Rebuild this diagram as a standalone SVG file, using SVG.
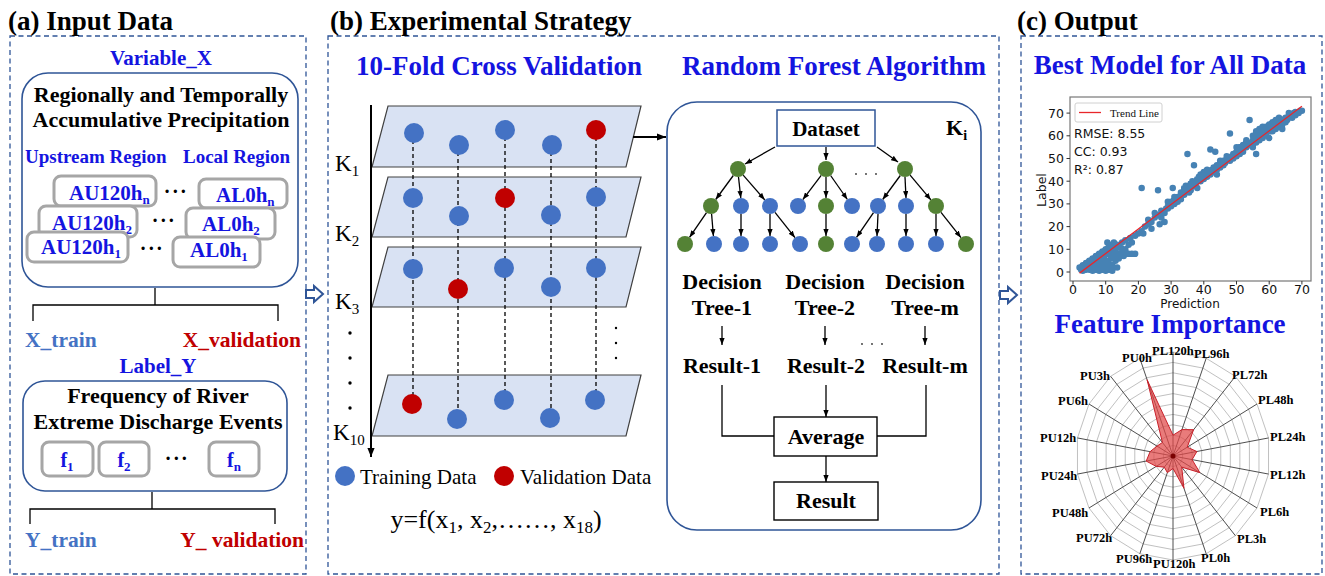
<svg xmlns="http://www.w3.org/2000/svg" xmlns:xlink="http://www.w3.org/1999/xlink" width="1325" height="576" viewBox="0 0 1325 576">
  <style>
    text { font-family: "Liberation Serif", "Times New Roman", serif; }
    .h { font-size: 27px; font-weight: bold; fill: #000; }
    .ttl { font-size: 27px; font-weight: bold; fill: #1414E0; }
    .bl { font-weight: bold; fill: #1414E0; }
    .bk { font-weight: bold; fill: #000; }
    .tr { font-weight: bold; fill: #4472C4; font-size: 21.5px; }
    .vd { font-weight: bold; fill: #C00000; font-size: 21.5px; }
    .reg { fill: #000; }
    .panel { fill: none; stroke: #2F5597; stroke-width: 1.3; stroke-dasharray: 5 3.5; }
    .round { fill: #fff; stroke: #2F5597; stroke-width: 1.6; }
    .gbox { fill: #fff; stroke: #A6A6A6; stroke-width: 3; }
    .plane { fill: #D9E2F3; stroke: #404040; stroke-width: 1.2; }
    .blue { fill: #4472C4; }
    .red { fill: #C00000; }
    .green { fill: #548235; }
    .ln { fill: none; stroke: #000; stroke-width: 1.3; }
    .dash { fill: none; stroke: #000; stroke-width: 1.3; stroke-dasharray: 4 3; }
    .box { fill: #fff; stroke: #000; stroke-width: 1.4; }
    text.mpl, .mpl text { font-family: "DejaVu Sans", "Liberation Sans", sans-serif; font-size: 12.5px; fill: #111; }
    .rl { font-size: 12.5px; font-weight: bold; fill: #000; }
    .nss { vector-effect: non-scaling-stroke; }
  </style>
  <defs>
    <marker id="ah" viewBox="0 0 8 6" refX="8" refY="3" markerWidth="7" markerHeight="5.5" markerUnits="userSpaceOnUse" orient="auto">
      <path d="M0,0L8,3L0,6z" fill="#000"/>
    </marker>
    <marker id="ahL" viewBox="0 0 10 8" refX="10" refY="4" markerWidth="9" markerHeight="7.5" markerUnits="userSpaceOnUse" orient="auto">
      <path d="M0,0L10,4L0,8z" fill="#000"/>
    </marker>
    <polygon id="ring" points="0,-100 34.2,-93.97 64.28,-76.6 86.6,-50 98.48,-17.36 98.48,17.36 86.6,50 64.28,76.6 34.2,93.97 0,100 -34.2,93.97 -64.28,76.6 -86.6,50 -98.48,17.36 -98.48,-17.36 -86.6,-50 -64.28,-76.6 -34.2,-93.97" fill="none" stroke="#B0B0B0" stroke-width="0.8" vector-effect="non-scaling-stroke"/>
  </defs>

  <rect width="1325" height="576" fill="#fff"/>

  <!-- panel frames and titles -->
  <g id="panels">
    <rect class="panel" x="10" y="36" width="296" height="538"/>
    <rect class="panel" x="328" y="36" width="671" height="538"/>
    <rect class="panel" x="1021" y="36" width="301" height="538"/>
    <text class="h" x="8" y="30">(a) Input Data</text>
    <text class="h" x="330" y="30">(b) Experimental Strategy</text>
    <text class="h" x="1017" y="30">(c) Output</text>
  </g>

  <!-- hollow arrows between panels -->
  <g id="panel-arrows" fill="#fff" stroke="#2F5597" stroke-width="2" stroke-linejoin="miter">
    <polygon points="306,290 314,290 314,286 323,294 314,302 314,298 306,298"/>
    <polygon points="1000,291 1008,291 1008,287 1017,295 1008,303 1008,299 1000,299"/>
  </g>

  <!-- (a) input data -->
  <g id="variable-x">
    <text class="bl" x="161" y="65" font-size="21" text-anchor="middle">Variable_X</text>
    <rect class="round" x="22" y="73" width="276" height="214" rx="26"/>
    <text class="bk" x="161" y="102" font-size="22" text-anchor="middle">Regionally and Temporally</text>
    <text class="bk" x="161" y="127" font-size="22" text-anchor="middle">Accumulative Precipitation</text>
    <text class="bl" x="25" y="163" font-size="19">Upstream Region</text>
    <text class="bl" x="183" y="163" font-size="19">Local Region</text>
  </g>
  <g id="upstream-boxes">
    <rect class="gbox" x="54" y="176" width="102" height="30" rx="7"/>
    <text class="bl" x="69" y="200" font-size="21">AU120h<tspan font-size="13" dy="4">n</tspan></text>
    <rect class="gbox" x="39" y="206" width="98" height="31" rx="7"/>
    <text class="bl" x="52" y="230" font-size="21">AU120h<tspan font-size="13" dy="4">2</tspan></text>
    <rect class="gbox" x="27" y="232" width="101" height="30" rx="7"/>
    <text class="bl" x="41" y="254" font-size="21">AU120h<tspan font-size="13" dy="4">1</tspan></text>
  </g>
  <g id="local-boxes">
    <rect class="gbox" x="199" y="179" width="88" height="29" rx="7"/>
    <text class="bl" x="216" y="202" font-size="21">AL0h<tspan font-size="13" dy="4">n</tspan></text>
    <rect class="gbox" x="186" y="208" width="89" height="31" rx="7"/>
    <text class="bl" x="202" y="231" font-size="21">AL0h<tspan font-size="13" dy="4">2</tspan></text>
    <rect class="gbox" x="173" y="237" width="87" height="30" rx="7"/>
    <text class="bl" x="190" y="257" font-size="21">AL0h<tspan font-size="13" dy="4">1</tspan></text>
  </g>
  <g id="x-ellipses" class="bk" font-size="20" text-anchor="middle" letter-spacing="1.5">
    <text x="176" y="198">···</text>
    <text x="164" y="227">···</text>
    <text x="152" y="255">···</text>
  </g>
  <g id="x-split">
    <path class="ln" d="M155,288V305M33,321V305H278V321"/>
    <text class="tr" x="25" y="347">X_train</text>
    <text class="vd" x="301" y="347" text-anchor="end">X_validation</text>
  </g>

  <g id="label-y">
    <text class="bl" x="158" y="373" font-size="21" text-anchor="middle">Label_Y</text>
    <rect class="round" x="23" y="381" width="264" height="110" rx="22"/>
    <text class="bk" x="158" y="403" font-size="22" text-anchor="middle">Frequency of River</text>
    <text class="bk" x="158" y="429" font-size="22" text-anchor="middle">Extreme Discharge Events</text>
  </g>
  <g id="frequency-boxes">
    <rect class="gbox" x="42" y="442" width="51" height="34" rx="7"/>
    <text class="bl" x="67" y="467" font-size="20" text-anchor="middle">f<tspan font-size="13" dy="4">1</tspan></text>
    <rect class="gbox" x="99" y="442" width="50" height="34" rx="7"/>
    <text class="bl" x="124" y="467" font-size="20" text-anchor="middle">f<tspan font-size="13" dy="4">2</tspan></text>
    <rect class="gbox" x="209" y="442" width="50" height="34" rx="7"/>
    <text class="bl" x="234" y="467" font-size="20" text-anchor="middle">f<tspan font-size="13" dy="4">n</tspan></text>
    <text class="bk" x="177" y="465" font-size="20" text-anchor="middle" letter-spacing="1.5">···</text>
  </g>
  <g id="y-split">
    <path class="ln" d="M152,492V509M30,524V509H275V524"/>
    <text class="tr" x="25" y="547">Y_train</text>
    <text class="vd" x="304" y="547" text-anchor="end">Y_ validation</text>
  </g>

  <!-- (b) cross validation folds -->
  <g id="cv-heading">
    <text class="ttl" x="499" y="75" text-anchor="middle">10-Fold Cross Validation</text>
    <text class="ttl" x="834" y="75" text-anchor="middle">Random Forest Algorithm</text>
  </g>
  <g id="fold-k1">
    <polygon class="plane" points="388,106 641,106 626,167 372,167"/>
  </g>
  <g id="fold-k2">
    <polygon class="plane" points="388,177 641,177 626,237 372,237"/>
  </g>
  <g id="fold-k3">
    <polygon class="plane" points="388,247 641,247 626,307 372,307"/>
  </g>
  <g id="fold-k10">
    <polygon class="plane" points="388,375 641,375 626,436 372,436"/>
  </g>
  <g id="fold-columns">
    <line class="dash" x1="413" y1="133" x2="413" y2="404"/>
    <line class="dash" x1="458" y1="145" x2="458" y2="419"/>
    <line class="dash" x1="505" y1="130" x2="505" y2="400"/>
    <line class="dash" x1="551" y1="145" x2="551" y2="418"/>
    <line class="dash" x1="596" y1="130" x2="596" y2="400"/>
  </g>
  <g id="fold-points">
    <circle class="blue" cx="414" cy="133" r="10"/>
    <circle class="blue" cx="459" cy="145" r="10"/>
    <circle class="blue" cx="505" cy="130" r="10"/>
    <circle class="blue" cx="552" cy="145" r="10"/>
    <circle class="red" cx="596" cy="130" r="10"/>

    <circle class="blue" cx="413" cy="198" r="10"/>
    <circle class="blue" cx="459" cy="216" r="10"/>
    <circle class="red" cx="505" cy="198" r="10"/>
    <circle class="blue" cx="551" cy="215" r="10"/>
    <circle class="blue" cx="596" cy="197" r="10"/>

    <circle class="blue" cx="413" cy="269" r="10"/>
    <circle class="red" cx="458" cy="289" r="10"/>
    <circle class="blue" cx="504" cy="268" r="10"/>
    <circle class="blue" cx="551" cy="287" r="10"/>
    <circle class="blue" cx="596" cy="268" r="10"/>

    <circle class="red" cx="412" cy="404" r="10"/>
    <circle class="blue" cx="457" cy="419" r="10"/>
    <circle class="blue" cx="504" cy="400" r="10"/>
    <circle class="blue" cx="550" cy="418" r="10"/>
    <circle class="blue" cx="595" cy="400" r="10"/>
  </g>
  <g id="fold-axis">
    <line x1="371" y1="105" x2="371" y2="457" stroke="#000" stroke-width="2" marker-end="url(#ahL)"/>
    <text class="reg" x="335" y="171" font-size="23">K<tspan font-size="15" dy="5">1</tspan></text>
    <text class="reg" x="335" y="241" font-size="23">K<tspan font-size="15" dy="5">2</tspan></text>
    <text class="reg" x="335" y="309" font-size="23">K<tspan font-size="15" dy="5">3</tspan></text>
    <text class="reg" x="333" y="440" font-size="23">K<tspan font-size="15" dy="5">10</tspan></text>
    <circle cx="350" cy="333" r="1.7"/>
    <circle cx="350" cy="358" r="1.7"/>
    <circle cx="350" cy="383" r="1.7"/>
    <circle cx="350" cy="408" r="1.7"/>
    <circle cx="616" cy="328" r="1.2"/>
    <circle cx="616" cy="343" r="1.2"/>
    <circle cx="616" cy="358" r="1.2"/>
  </g>
  <g id="cv-legend">
    <circle class="blue" cx="345" cy="476" r="10"/>
    <text class="reg" x="360" y="484" font-size="21">Training Data</text>
    <circle class="red" cx="504" cy="476" r="10"/>
    <text class="reg" x="520" y="484" font-size="21">Validation Data</text>
    <text class="reg" x="496" y="528" font-size="26" text-anchor="middle">y=f(x<tspan font-size="17" dy="5">1</tspan><tspan dy="-5">, x</tspan><tspan font-size="17" dy="5">2</tspan><tspan dy="-5">,……, x</tspan><tspan font-size="17" dy="5">18</tspan><tspan dy="-5">)</tspan></text>
  </g>

  <!-- (b) random forest -->
  <g id="random-forest">
    <rect class="round" x="667" y="102" width="314" height="428" rx="30"/>
    <text class="bk" x="946" y="135" font-size="22">K<tspan font-size="14" dy="5">i</tspan></text>
  </g>
  <g id="dataset">
    <rect x="777" y="110" width="98" height="36" fill="#fff" stroke="#2F5597" stroke-width="1.5"/>
    <text class="bk" x="826" y="136" font-size="21" text-anchor="middle">Dataset</text>
  </g>

  <g id="connectors">
    <line x1="633" y1="137" x2="666" y2="137" stroke="#000" stroke-width="1.8" marker-end="url(#ahL)"/>
    <g class="ln" marker-end="url(#ah)">
      <line x1="775" y1="147" x2="745" y2="164"/>
      <line x1="826" y1="147" x2="826" y2="160"/>
      <line x1="877" y1="147" x2="898" y2="162"/>

      <line x1="733.3" y1="175.5" x2="715.7" y2="199.5"/>
      <line x1="738.5" y1="177" x2="740.8" y2="198"/>
      <line x1="743.2" y1="175.1" x2="764.8" y2="199.9"/>
      <line x1="706.5" y1="212.6" x2="689.5" y2="237.4"/>
      <line x1="711.6" y1="214" x2="713.4" y2="236"/>
      <line x1="741" y1="214" x2="741" y2="236"/>
      <line x1="770" y1="214" x2="770" y2="236"/>
      <line x1="775" y1="212.3" x2="795" y2="237.7"/>

      <line x1="821.2" y1="175.4" x2="802.8" y2="199.6"/>
      <line x1="826" y1="177" x2="826" y2="198"/>
      <line x1="830.6" y1="175.5" x2="847.4" y2="199.5"/>
      <line x1="826" y1="214" x2="826" y2="236"/>

      <line x1="900.3" y1="175.5" x2="882.7" y2="199.5"/>
      <line x1="905" y1="177" x2="906" y2="198"/>
      <line x1="910.1" y1="175.1" x2="930.9" y2="199.9"/>
      <line x1="873.5" y1="212.6" x2="856.5" y2="237.4"/>
      <line x1="878" y1="214" x2="877" y2="236"/>
      <line x1="906" y1="214" x2="906" y2="236"/>
      <line x1="936" y1="214" x2="936" y2="236"/>
      <line x1="941" y1="212.3" x2="961" y2="237.7"/>

      <line x1="722" y1="326" x2="722" y2="345"/>
      <line x1="825" y1="326" x2="825" y2="345"/>
      <line x1="925" y1="326" x2="925" y2="345"/>

      <line x1="826" y1="385" x2="826" y2="417"/>
      <line x1="826" y1="456" x2="826" y2="482"/>
    </g>
    <polyline class="ln" points="722,385 722,436 774,436"/>
    <polyline class="ln" points="926,385 926,436 877,436"/>
  </g>

  <g id="tree-1">
    <circle class="green" cx="738" cy="169" r="8"/>
    <circle class="green" cx="711" cy="206" r="8"/>
    <circle class="blue" cx="741" cy="206" r="8"/>
    <circle class="blue" cx="770" cy="206" r="8"/>
    <circle class="green" cx="685" cy="244" r="8"/>
    <circle class="blue" cx="714" cy="244" r="8"/>
    <circle class="blue" cx="741" cy="244" r="8"/>
    <circle class="blue" cx="770" cy="244" r="8"/>
    <circle class="blue" cx="800" cy="244" r="8"/>
    <text class="bk" x="722" y="289" font-size="22" text-anchor="middle">Decision</text>
    <text class="bk" x="722" y="315" font-size="22" text-anchor="middle">Tree-1</text>
    <text class="bk" x="722" y="373" font-size="22" text-anchor="middle">Result-1</text>
  </g>
  <g id="tree-2">
    <circle class="green" cx="826" cy="169" r="8"/>
    <circle class="blue" cx="798" cy="206" r="8"/>
    <circle class="green" cx="826" cy="206" r="8"/>
    <circle class="blue" cx="852" cy="206" r="8"/>
    <circle class="green" cx="826" cy="244" r="8"/>
    <text class="bk" x="825" y="289" font-size="22" text-anchor="middle">Decision</text>
    <text class="bk" x="825" y="315" font-size="22" text-anchor="middle">Tree-2</text>
    <text class="bk" x="826" y="373" font-size="22" text-anchor="middle">Result-2</text>
  </g>
  <g id="tree-m">
    <circle class="green" cx="905" cy="169" r="8"/>
    <circle class="blue" cx="878" cy="206" r="8"/>
    <circle class="blue" cx="906" cy="206" r="8"/>
    <circle class="green" cx="936" cy="206" r="8"/>
    <circle class="blue" cx="852" cy="244" r="8"/>
    <circle class="blue" cx="877" cy="244" r="8"/>
    <circle class="blue" cx="906" cy="244" r="8"/>
    <circle class="blue" cx="936" cy="244" r="8"/>
    <circle class="green" cx="966" cy="244" r="8"/>
    <text class="bk" x="925" y="289" font-size="22" text-anchor="middle">Decision</text>
    <text class="bk" x="925" y="315" font-size="22" text-anchor="middle">Tree-m</text>
    <text class="bk" x="925" y="373" font-size="22" text-anchor="middle">Result-m</text>
  </g>
  <g id="tree-ellipses" fill="#333">
    <circle cx="856" cy="174" r="0.9"/>
    <circle cx="866" cy="174" r="0.9"/>
    <circle cx="876" cy="174" r="0.9"/>
    <circle cx="862" cy="344" r="0.9"/>
    <circle cx="872" cy="344" r="0.9"/>
    <circle cx="882" cy="344" r="0.9"/>
  </g>
  <g id="average">
    <rect class="box" x="774" y="417" width="103" height="39"/>
    <text class="bk" x="826" y="444" font-size="22" text-anchor="middle">Average</text>
  </g>
  <g id="result">
    <rect class="box" x="774" y="482" width="104" height="38"/>
    <text class="bk" x="826" y="508" font-size="22" text-anchor="middle">Result</text>
  </g>

  <!-- (c) output: scatter of prediction vs label -->
  <g id="best-model">
    <text class="ttl" x="1170" y="74" text-anchor="middle">Best Model for All Data</text>
    <rect x="1070" y="97" width="241" height="184" fill="#fff" stroke="#777" stroke-width="1.2"/>
    <g stroke="#333" stroke-width="1">
      <path d="M1073,281v3.5M1105.7,281v3.5M1138.4,281v3.5M1171.1,281v3.5M1203.8,281v3.5M1236.5,281v3.5M1269.2,281v3.5M1301.9,281v3.5"/>
      <path d="M1066.5,272h3.5M1066.5,249.3h3.5M1066.5,226.6h3.5M1066.5,203.9h3.5M1066.5,181.2h3.5M1066.5,158.5h3.5M1066.5,135.8h3.5M1066.5,113.1h3.5"/>
    </g>
    <g class="mpl" text-anchor="end">
      <text x="1064" y="276.5">0</text>
      <text x="1064" y="253.8">10</text>
      <text x="1064" y="231.1">20</text>
      <text x="1064" y="208.4">30</text>
      <text x="1064" y="185.7">40</text>
      <text x="1064" y="163">50</text>
      <text x="1064" y="140.3">60</text>
      <text x="1064" y="117.6">70</text>
    </g>
    <g class="mpl" text-anchor="middle">
      <text x="1073" y="294">0</text>
      <text x="1105.7" y="294">10</text>
      <text x="1138.4" y="294">20</text>
      <text x="1171.1" y="294">30</text>
      <text x="1203.8" y="294">40</text>
      <text x="1236.5" y="294">50</text>
      <text x="1269.2" y="294">60</text>
      <text x="1301.9" y="294">70</text>
      <text x="1190" y="308" style="font-size:12px">Prediction</text>
      <text x="1045.5" y="190" transform="rotate(-90 1045.5 190)">Label</text>
    </g>
    <g transform="translate(1073,272) scale(3.27,-2.27)">
      <path class="nss" fill="none" stroke="#4682B4" stroke-width="6.5" stroke-linecap="round" d="M2,2h0M2.5,1h0M3,0.5h0M3,3h0M3.5,2h0M4,1h0M4,4h0M4.5,2.5h0M5,1h0M5,5h0M5.5,3h0M6,0.5h0M6,2h0M6,6h0M6.5,4h0M7,1h0M7,3h0M7,7h0M7.5,5h0M8,0.5h0M8,2h0M8,8h0M8.5,4h0M8.5,6h0M9,1h0M9,3h0M9,9h0M9.5,7h0M10,0.5h0M10,2h0M10,5h0M10,10h0M10.5,13h0M10.5,8h0M11,1h0M11,4h0M11,9h0M11,12h0M11.5,6h0M12,0.5h0M12,3h0M12,8h0M12,11h0M12.5,13h0M13,5h0M13,7h0M13,10h0M13.5,2h0M13.5,12h0M14,8h0M14,6h0M14.5,11h0M15,9h0M15,13h0M15.5,7h0M16,10h0M16,14h0M16.5,8h0M17,12h0M17,8h0M17.5,15h0M18,8h0M18,13h0M19,8h0M19,16h0M20,17h0M21,18h0M21,37h0M21.5,17h0M22,20h0M23,21h0M23,23h0M24,19h0M24,22h0M25,24h0M25,26h0M26,25h0M26,36h0M26.5,21h0M27,27h0M27,24h0M28,22h0M28,26h0M28.5,28h0M29,28h0M29,29h0M30,29h0M30,31h0M30.5,37h0M31,30h0M31,32h0M32,31h0M32,33h0M33,33h0M33,35h0M34,34h0M34,37h0M34.5,38h0M35,36h0M35,52h0M35.5,35h0M36,37h0M36,39h0M36.5,40h0M37,38h0M37,47h0M37.5,39h0M38,40h0M38,41h0M38.5,42h0M39,40h0M39,43h0M39.5,41h0M40,42h0M40,44h0M40.5,43h0M41,42h0M41,45h0M41.5,44h0M42,43h0M42,54h0M42.5,45h0M43,44h0M43,46h0M43.5,53h0M44,45h0M44,47h0M44.5,46h0M45,46h0M45,48h0M45.5,47h0M46,47h0M46,49h0M46.5,48h0M47,49h0M47,51h0M47.5,50h0M48,49h0M48,61h0M48.5,51h0M49,50h0M49,52h0M49.5,51h0M50,51h0M50,53h0M50.5,52h0M51,52h0M51,55h0M51.5,54h0M52,53h0M52,56h0M52.5,55h0M53,55h0M53,57h0M53.5,56h0M54,56h0M54,67h0M54.5,57h0M55,55h0M55,58h0M55.5,59h0M56,52h0M56,57h0M56,62h0M56.5,60h0M57,58h0M57,63h0M57.5,61h0M58,59h0M58,62h0M58.5,60h0M59,61h0M59,64h0M59.5,62h0M60,59h0M60,62h0M60,65h0M60.5,63h0M61,62h0M61,66h0M61.5,64h0M62,63h0M62,67h0M62.5,65h0M63,64h0M63,68h0M63.5,66h0M64,65h0M64,63h0M64.5,67h0M65,66h0M65,68h0M65.5,67h0M66,68h0M66,70h0M67,68h0M67,69.5h0M67.5,70h0M68,69h0M68,70.5h0M69,70h0M69.5,71h0M70,71h0M66.5,69h0M64,67h0M62,65h0M58,64h0M55,60h0M53,58h0M50,55h0M48,50h0M45,49h0M44,43h0M40,41h0M38,37h0M36,36h0M33,32h0M31,33h0M29,31h0"/>
      <line class="nss" x1="2" y1="-0.5" x2="70" y2="73" stroke="#E8262A" stroke-width="1.3"/>
    </g>
    <rect x="1075" y="103" width="87" height="19" rx="2" fill="#fff" fill-opacity="0.85" stroke="#D0D0D0" stroke-width="1"/>
    <line x1="1079" y1="112.5" x2="1101" y2="112.5" stroke="#E8262A" stroke-width="1.3"/>
    <text x="1110" y="116.5" font-size="11" fill="#111">Trend Line</text>
    <text class="mpl" x="1074" y="138">RMSE: 8.55</text>
    <text class="mpl" x="1074" y="156">CC: 0.93</text>
    <text class="mpl" x="1074" y="174">R²: 0.87</text>
  </g>

  <!-- (c) output: feature importance radar -->
  <g id="feature-importance">
    <text class="ttl" x="1170" y="333" text-anchor="middle">Feature Importance</text>
    <g transform="translate(1173,456) scale(0.97,1.04)">
      <use xlink:href="#ring" transform="scale(0.1)"/>
      <use xlink:href="#ring" transform="scale(0.2)"/>
      <use xlink:href="#ring" transform="scale(0.3)"/>
      <use xlink:href="#ring" transform="scale(0.4)"/>
      <use xlink:href="#ring" transform="scale(0.5)"/>
      <use xlink:href="#ring" transform="scale(0.6)"/>
      <use xlink:href="#ring" transform="scale(0.7)"/>
      <use xlink:href="#ring" transform="scale(0.8)"/>
      <use xlink:href="#ring" transform="scale(0.9)"/>
      <use xlink:href="#ring"/>
      <path class="nss" fill="none" stroke="#3A3A3A" stroke-width="0.9" d="M0,0L0,-100M0,0L34.2,-93.97M0,0L64.28,-76.6M0,0L86.6,-50M0,0L98.48,-17.36M0,0L98.48,17.36M0,0L86.6,50M0,0L64.28,76.6M0,0L34.2,93.97M0,0L0,100M0,0L-34.2,93.97M0,0L-64.28,76.6M0,0L-86.6,50M0,0L-98.48,17.36M0,0L-98.48,-17.36M0,0L-86.6,-50M0,0L-64.28,-76.6M0,0L-34.2,-93.97"/>
      <polygon class="nss" fill="#E04848" fill-opacity="0.72" stroke="#C8202A" stroke-width="1" points="0,-20 9.2,-25.4 21.2,-25.3 14.7,-8.5 24.6,-4.3 19.7,3.5 27.7,16 9,10.7 11.3,31 0,12 -5.8,16 -9,10.7 -17.3,10 -27.6,4.9 -23.6,-4.2 -16.5,-9.5 -10.9,-13 -26.7,-73.3"/>
      <circle r="2.5" fill="#7A0000"/>
    </g>
    <g class="rl">
      <text x="1152" y="355">PL120h</text>
      <text x="1194" y="358">PL96h</text>
      <text x="1232" y="379">PL72h</text>
      <text x="1258" y="404">PL48h</text>
      <text x="1270" y="441">PL24h</text>
      <text x="1270" y="479">PL12h</text>
      <text x="1260" y="516">PL6h</text>
      <text x="1237" y="543">PL3h</text>
      <text x="1201" y="562">PL0h</text>
      <text x="1153" y="568">PU120h</text>
      <text x="1116" y="563">PU96h</text>
      <text x="1076" y="542">PU72h</text>
      <text x="1052" y="517">PU48h</text>
      <text x="1041" y="480">PU24h</text>
      <text x="1040" y="442">PU12h</text>
      <text x="1058" y="405">PU6h</text>
      <text x="1080" y="380">PU3h</text>
      <text x="1122" y="362">PU0h</text>
    </g>
  </g>
</svg>
